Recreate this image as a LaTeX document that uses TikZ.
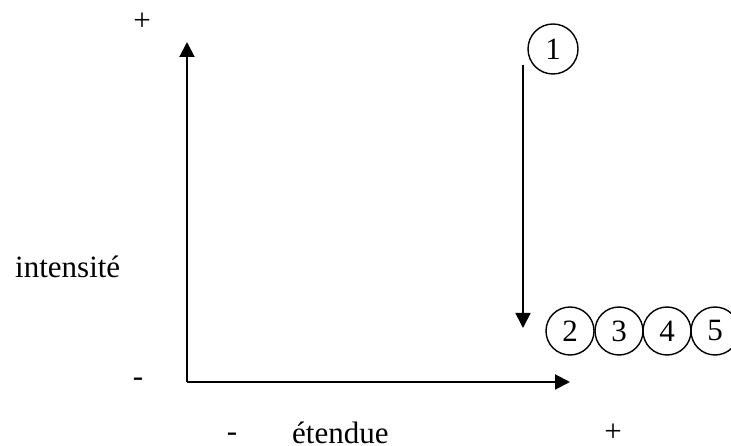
\documentclass[tikz,border=0pt]{standalone}
\usepackage{fontspec}
\setmainfont{Liberation Serif}
\usetikzlibrary{arrows.meta}
\tikzset{
  axe/.style={line width=2pt,-{Triangle[length=15pt,width=15pt]}},
  etape/.style={draw,circle,line width=1.4pt,minimum size=48pt,inner sep=0pt},
  lbl/.style={inner sep=0pt,anchor=base west}
}
\begin{document}
\begin{tikzpicture}[x=1pt,y=-1pt,font=\fontsize{31}{36}\selectfont]
  \useasboundingbox (0,0) rectangle (731,446);
  \coordinate (O) at (187,382);
  \coordinate (Y) at (187,42);
  \coordinate (X) at (570,382);
  \draw[axe] (O) -- (Y);
  \draw[axe] (O) -- (X);
  \node[inner sep=0pt,anchor=base] (yplus) at (142,31) {+};
  \node[inner sep=0pt,anchor=base] (ymoins) at (138,386) {-};
  \node[lbl] (intens) at (15,278) {intensité};
  \node[inner sep=0pt,anchor=base] (xmoins) at (232,441) {-};
  \node[lbl] (etend) at (292,443) {étendue};
  \node[inner sep=0pt,anchor=base] (xplus) at (613,441) {+};
  \node[etape,minimum size=50pt] (c1) at (553,49) {1};
  \foreach \n/\x in {2/570,3/619,4/667,5/715}
    \node[etape] (c\n) at (\x,331) {\n};
  \coordinate (haut) at (523,65);
  \coordinate (bas) at (523,328);
  \draw[axe,line width=1.7pt] (haut) -- (bas);
\end{tikzpicture}
\end{document}
